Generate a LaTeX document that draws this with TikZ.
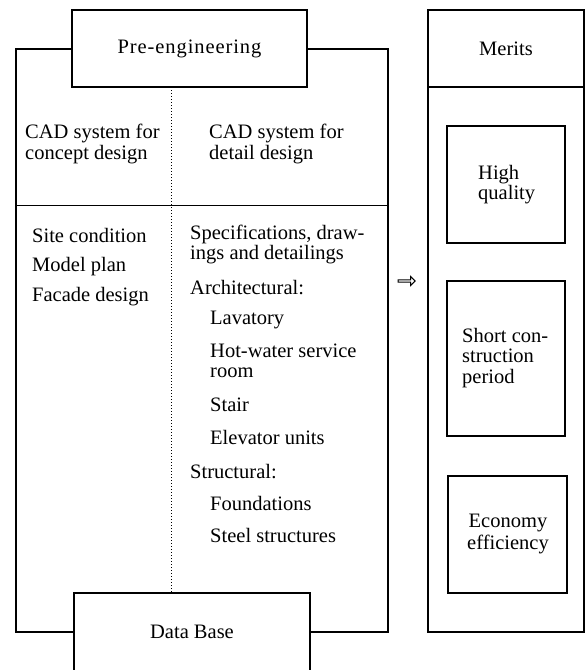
\documentclass[tikz,border=0pt]{standalone}
\usepackage{fontspec}
\setmainfont{Liberation Serif}
\usetikzlibrary{shapes.arrows}
\begin{document}
\begin{tikzpicture}[x=1pt,y=-1pt,
  frame/.style={line width=1.6pt},
  boxnode/.style={draw,line width=1.6pt,fill=white,rectangle,inner sep=0pt,font=\fontsize{20.5}{22}\selectfont},
  meritbox/.style={draw,line width=1.1pt,rectangle,inner sep=0pt},
  txt/.style={anchor=west,inner sep=0pt,align=left,font=\fontsize{20.5}{20.5}\selectfont},
  ctxt/.style={inner sep=0pt,align=center,font=\fontsize{20.5}{22}\selectfont}]
\useasboundingbox (0,0) rectangle (585,670);
% coordinates
\coordinate (frameBL) at (16,632);
\coordinate (frameBR) at (388,632);
\coordinate (hl) at (16,205);
\coordinate (hr) at (388,205);
\coordinate (dtop) at (171,87);
\coordinate (dbot) at (171,593);
% frame
\draw[frame] (72,49) -| (frameBL) -- (74,632);
\draw[frame] (307,49) -| (frameBR) -- (310,632);
\draw[line width=1pt] (hl) -- (hr);
\draw[line width=1pt,dash pattern=on 1pt off 2pt] (dtop) -- (dbot);
% top and bottom boxes
\node[boxnode,minimum width=235pt,minimum height=77pt] (pre) at (189.5,48.5) {\addfontfeature{LetterSpace=4.5}Pre-engineering};
\node[boxnode,minimum width=236pt,minimum height=78pt] (db) at (192,632) {Data Base};
% left column text
\node[txt] (cadc) at (25,144) {CAD system for\\concept design};
\node[txt] (cadd) at (209,144) {CAD system for\\detail design};
\node[txt] (site) at (32,235) {Site condition};
\node[txt] (model) at (32,267) {Model plan};
\node[txt] (facade) at (32,297) {Facade design};
\node[txt] (spec) at (190,244.5) {Specifications, draw-\\ings and detailings};
\node[txt] (arch) at (190,288) {Architectural:};
\node[txt] (lav) at (210,320) {Lavatory};
\node[txt] (hot) at (210,361) {Hot-water service\\room};
\node[txt] (stair) at (210,405) {Stair};
\node[txt] (elev) at (210,437) {Elevator units};
\node[txt] (struct) at (190,472) {Structural:};
\node[txt] (found) at (210,503) {Foundations};
\node[txt] (steel) at (210,535) {Steel structures};
% arrow
\node[single arrow,draw,line width=1pt,minimum height=17pt,minimum width=9pt,single arrow head extend=1.5pt,inner sep=0pt] (arr) at (406,281) {};
% merits
\node[boxnode,minimum width=156pt,minimum height=77pt] (merits) at (506,48.5) {Merits};
\node[draw,line width=1.6pt,rectangle,minimum width=156pt,minimum height=545pt,inner sep=0pt] (mlist) at (506,359.5) {};
\node[meritbox,minimum width=118pt,minimum height=117pt] (hq) at (506,184.5) {};
\node[txt] (hqt) at (478,184.5) {High\\quality};
\node[meritbox,minimum width=118pt,minimum height=155pt] (sc) at (506,358.5) {};
\node[txt] (sct) at (462,358) {Short con-\\struction\\period};
\node[meritbox,minimum width=119pt,minimum height=117pt] (ec) at (507.5,534.5) {};
\node[ctxt] (ect) at (508,533.5) {Economy\\efficiency};
\end{tikzpicture}
\end{document}
